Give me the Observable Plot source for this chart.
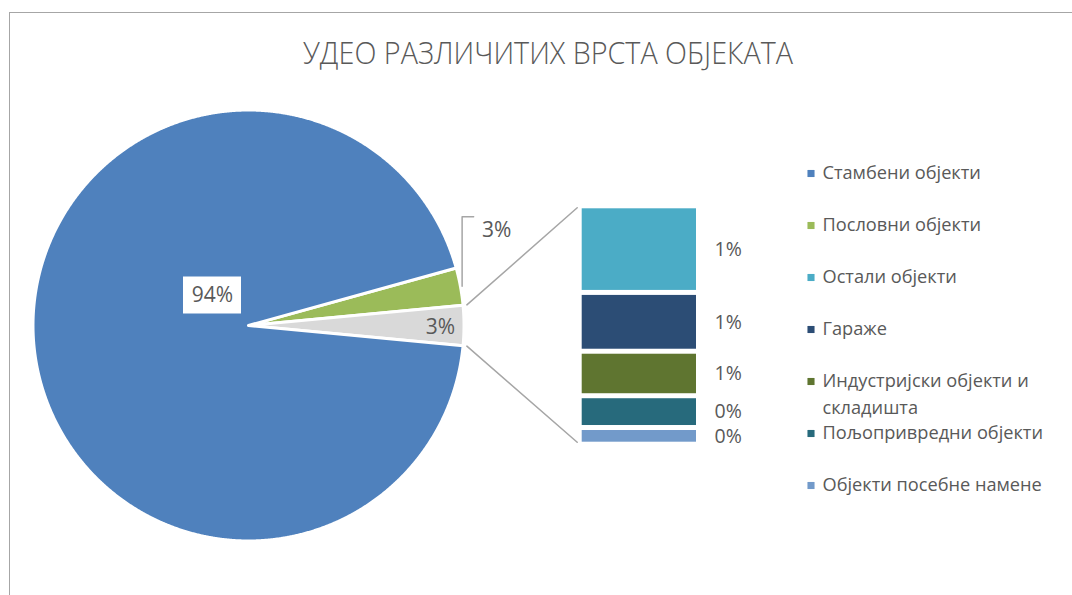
<!DOCTYPE html>
<html><head><meta charset="utf-8">
<script src="https://cdn.jsdelivr.net/npm/d3@7"></script>
<script src="https://cdn.jsdelivr.net/npm/@observablehq/plot@0.6"></script>
<style>
body{margin:0;background:#fff;}
#wrap{position:relative;width:1072px;height:595px;overflow:hidden;font-family:"Open Sans",sans-serif;}
#frame{position:absolute;left:9px;top:12px;width:1200px;height:800px;border-top:1.5px solid #a6a6a6;border-left:1.5px solid #a6a6a6;pointer-events:none;z-index:2;}
#title{position:relative;height:90px;}
#t{position:absolute;left:0;top:37px;white-space:nowrap;font-size:31px;line-height:1;color:#595959;font-weight:300;transform-origin:0 0;}
#chart svg{display:block;}
</style></head>
<body><div id="wrap"><div id="frame"></div><div id="title"><span id="t">УДЕО РАЗЛИЧИТИХ ВРСТА ОБЈЕКАТА</span></div><div id="chart"></div></div>
<script>
// ---- data ----
const pieCategories = ["Стамбени објекти", "Пословни објекти"];
const pieValues = [94.2, 2.8];
const pieColors = ["#4F81BD", "#9BBB59"];
const otherName = "Остало";
const otherColor = "#D9D9D9";
const barCategories = ["Остали објекти", "Гараже", "Индустријски објекти и складишта", "Пољопривредни објекти", "Објекти посебне намене"];
const barValues = [1.09, 0.74, 0.56, 0.40, 0.21];
const barColors = ["#4BACC6", "#2C4D75", "#5F7530", "#276A7C", "#729ACA"];

// ---- title fit ----
const t = document.getElementById("t");
const tw = t.getBoundingClientRect().width;
const targetW = 490, titleCenter = 548;
t.style.transform = `translateX(${titleCenter - targetW / 2}px) scaleX(${targetW / tw})`;

// ---- layout (pixels -> units where pie radius = 1) ----
const W = 1072, H = 505, R = 214, CX = 248, CY = 235;
const u = px => px / R;
const textColor = "#595959";
const font = "Open Sans";

const otherTotal = d3.sum(barValues);
const total = d3.sum(pieValues) + otherTotal;
const pieData = [
  {name: pieCategories[1], value: pieValues[1]},
  {name: otherName, value: otherTotal},
  {name: pieCategories[0], value: pieValues[0]}
];
const start = Math.PI / 2 - (pieValues[1] + otherTotal / 2) / total * 2 * Math.PI;
const arcs = d3.pie().sort(null).value(d => d.value).startAngle(start).endAngle(start + 2 * Math.PI)(pieData);
const RR = 1 + u(1.5);
const slicePts = arcs.flatMap(a => {
  const pts = [{name: a.data.name, x: 0, y: 0}];
  const n = Math.max(2, Math.ceil((a.endAngle - a.startAngle) / 0.004));
  for (let i = 0; i <= n; i++) {
    const th = a.startAngle + (a.endAngle - a.startAngle) * i / n;
    pts.push({name: a.data.name, x: RR * Math.sin(th), y: RR * Math.cos(th)});
  }
  return pts;
});

// slice label placement (polar: degrees clockwise from top, radius)
const labelPlace = {
  [pieCategories[0]]: {deg: 309.8, r: 0.219},
  [pieCategories[1]]: {deg: 69, r: 1.242},
  [otherName]: {deg: 90.6, r: 0.897}
};
const sliceLabels = arcs.map(a => {
  const p = labelPlace[a.data.name];
  const th = p.deg * Math.PI / 180;
  return {name: a.data.name, text: Math.round(a.data.value) + "%", x: p.r * Math.sin(th), y: p.r * Math.cos(th)};
});
const boxLabel = sliceLabels.filter(d => d.name === pieCategories[0]).map(d => ({
  x1: d.x - u(29), x2: d.x + u(29), y1: d.y - u(18.5), y2: d.y + u(18.5)
}));

// leader for the small slice label
const greenArc = arcs.find(a => a.data.name === pieCategories[1]);
const gMid = (greenArc.startAngle + greenArc.endAngle) / 2;
const gLab = sliceLabels.find(d => d.name === pieCategories[1]);
const leader = [
  {x: 1.015 * Math.sin(gMid), y: 1.015 * Math.cos(gMid)},
  {x: 1.015 * Math.sin(gMid), y: gLab.y + u(13.5)},
  {x: gLab.x - u(23), y: gLab.y + u(13.5)}
];

// stacked bar
const bx1 = u(581.7 - CX), bx2 = u(696 - CX);
const bTop = u(119.2), bBot = -u(119.2);
const gap = 2.5;
let cum = 0;
const barData = barCategories.map((name, i) => {
  const y2 = bTop - cum / otherTotal * (bTop - bBot);
  cum += barValues[i];
  const y1 = bTop - cum / otherTotal * (bTop - bBot);
  return {name, value: barValues[i], x1: bx1, x2: bx2, y1, y2, ym: (y1 + y2) / 2, text: Math.round(barValues[i]) + "%"};
});

// connectors from other slice to bar
const otherArc = arcs.find(a => a.data.name === otherName);
const cr = 1.025;
const connectors = [
  {id: "a", x: cr * Math.sin(otherArc.startAngle), y: cr * Math.cos(otherArc.startAngle)},
  {id: "a", x: bx1 - u(5), y: bTop - u(gap) + u(1)},
  {id: "b", x: cr * Math.sin(otherArc.endAngle), y: cr * Math.cos(otherArc.endAngle)},
  {id: "b", x: bx1 - u(5), y: bBot + u(gap)}
];

// legend
const legendNames = [...pieCategories, ...barCategories];
const legendColors = [...pieColors, ...barColors];
const wrap = (s, max) => {
  if (s.length <= max) return [s];
  const k = s.lastIndexOf(" ", max);
  return [s.slice(0, k), s.slice(k + 1)];
};
const legendTop = u(152), legendStep = u(52), legendLine = u(27);
const legendMarkX = u(810.5 - CX), legendTextX = u(822 - CX);
const legendRows = legendNames.map((name, i) => ({name, lines: wrap(name, 22), y: legendTop - i * legendStep}));
const legendTexts = legendRows.flatMap(r => r.lines.map((line, j) => ({text: line, y: r.y - j * legendLine})));

const chart = Plot.plot({
  width: W, height: H,
  marginTop: 0, marginRight: 0, marginBottom: 0, marginLeft: 0,
  x: {domain: [-u(CX), u(W - CX)], range: [0, W], axis: null},
  y: {domain: [-u(H - CY), u(CY)], range: [H, 0], axis: null},
  color: {domain: [...legendNames, otherName], range: [...legendColors, otherColor]},
  style: {fontFamily: font, background: "transparent", overflow: "visible"},
  marks: [
    Plot.line(slicePts, {x: "x", y: "y", z: "name", fill: "name", stroke: "white", strokeWidth: 3, curve: "linear-closed"}),
    Plot.rect(boxLabel, {x1: "x1", x2: "x2", y1: "y1", y2: "y2", fill: "white"}),
    Plot.text(sliceLabels, {x: "x", y: "y", text: "text", fill: textColor, fontSize: 21, fontFamily: font}),
    Plot.line(leader, {x: "x", y: "y", stroke: "#A6A6A6", strokeWidth: 1.5}),
    Plot.line(connectors, {x: "x", y: "y", z: "id", stroke: "#A6A6A6", strokeWidth: 1.5}),
    Plot.rect(barData, {x1: "x1", x2: "x2", y1: "y1", y2: "y2", fill: "name", insetTop: gap, insetBottom: gap}),
    Plot.text(barData, {x: bx2 + u(18), y: "ym", text: "text", textAnchor: "start", fill: textColor, fontSize: 19.5, fontFamily: font}),
    Plot.dot(legendRows, {x: legendMarkX, y: "y", symbol: "square", r: 4, fill: "name"}),
    Plot.text(legendTexts, {x: legendTextX, y: "y", text: "text", textAnchor: "start", fill: textColor, fontSize: 18.2, fontFamily: font})
  ]
});
document.getElementById("chart").append(chart);
</script>
</body></html>
